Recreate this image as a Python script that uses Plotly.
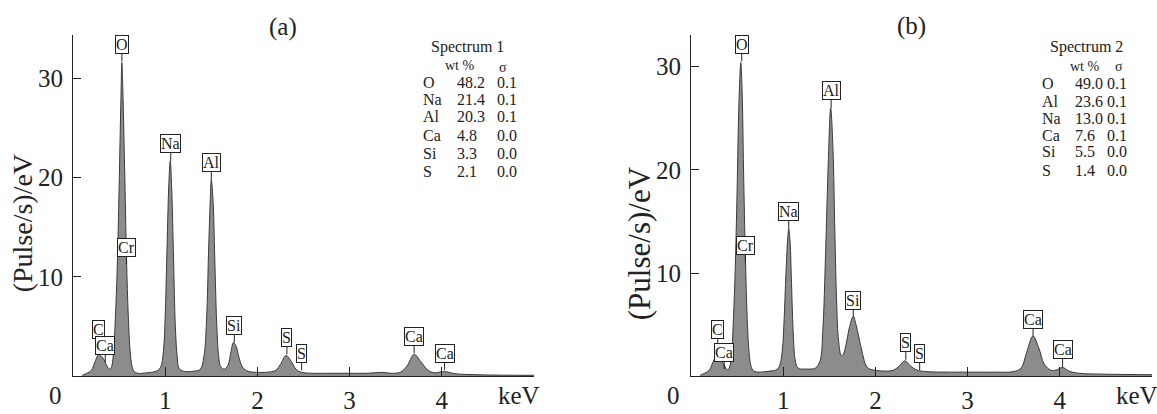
import plotly.graph_objects as go

# ---------------- data ----------------
kev_a = [0.10, 0.15, 0.20, 0.24, 0.28, 0.31, 0.34, 0.37, 0.40, 0.42, 0.44, 0.46, 0.48, 0.50,
         0.52, 0.53, 0.54, 0.56, 0.58, 0.60, 0.62, 0.64, 0.66, 0.70, 0.80, 0.90, 0.95, 0.98,
         1.00, 1.02, 1.04, 1.055, 1.07, 1.09, 1.11, 1.13, 1.15, 1.20, 1.30, 1.38, 1.42, 1.45,
         1.47, 1.49, 1.50, 1.52, 1.54, 1.56, 1.58, 1.60, 1.64, 1.68, 1.71, 1.74, 1.77, 1.80,
         1.84, 1.90, 2.00, 2.10, 2.20, 2.25, 2.31, 2.36, 2.42, 2.48, 2.60, 2.80, 3.00, 3.20,
         3.35, 3.45, 3.55, 3.62, 3.70, 3.77, 3.85, 3.92, 4.00, 4.05, 4.15, 4.40, 4.80, 5.00]
cps_a = [0.1, 0.3, 0.6, 1.5, 2.2, 2.0, 1.6, 1.0, 0.7, 1.0, 2.5, 6.0, 11.0, 19.0,
         28.0, 31.6, 29.0, 21.0, 12.0, 6.0, 2.5, 1.0, 0.5, 0.3, 0.35, 0.5, 0.9, 2.5,
         6.0, 13.0, 19.5, 21.7, 19.0, 12.0, 5.0, 2.0, 0.8, 0.5, 0.5, 0.7, 2.0, 6.0,
         12.5, 18.0, 19.8, 17.5, 11.0, 5.0, 2.0, 1.0, 0.7, 1.1, 2.3, 3.4, 3.0, 1.9,
         0.9, 0.5, 0.4, 0.4, 0.6, 1.2, 2.1, 1.6, 0.7, 0.4, 0.3, 0.3, 0.3, 0.3,
         0.4, 0.3, 0.4, 1.0, 2.2, 1.5, 0.6, 0.35, 0.45, 0.45, 0.25, 0.15, 0.1, 0.1]

kev_b = [0.10, 0.15, 0.20, 0.24, 0.28, 0.31, 0.34, 0.37, 0.40, 0.42, 0.44, 0.46, 0.48, 0.50,
         0.52, 0.54, 0.555, 0.57, 0.59, 0.61, 0.63, 0.65, 0.68, 0.75, 0.85, 0.92, 0.96, 0.99,
         1.01, 1.03, 1.05, 1.06, 1.075, 1.09, 1.11, 1.13, 1.16, 1.25, 1.35, 1.40, 1.43, 1.46,
         1.49, 1.515, 1.54, 1.56, 1.58, 1.60, 1.63, 1.65, 1.68, 1.72, 1.76, 1.79, 1.82, 1.86,
         1.90, 1.94, 2.10, 2.20, 2.26, 2.32, 2.38, 2.45, 2.55, 2.80, 3.00, 3.30, 3.50, 3.58,
         3.64, 3.71, 3.77, 3.83, 3.90, 3.96, 4.03, 4.10, 4.20, 4.50, 5.00]
cps_b = [0.1, 0.3, 0.6, 1.4, 2.0, 1.8, 1.4, 0.9, 0.6, 0.9, 2.2, 5.5, 10.5, 18.0,
         26.5, 30.4, 27.5, 20.0, 11.5, 5.5, 2.3, 1.0, 0.5, 0.4, 0.5, 0.6, 1.0, 2.5,
         5.5, 10.0, 13.5, 14.3, 13.0, 9.0, 4.0, 1.6, 0.8, 0.7, 0.8, 1.5, 4.5, 12.0,
         21.0, 26.0, 22.0, 14.0, 7.0, 3.5, 2.0, 2.1, 3.0, 4.8, 5.8, 5.0, 3.8, 2.2,
         1.0, 0.7, 0.5, 0.6, 1.0, 1.5, 1.0, 0.6, 0.45, 0.4, 0.4, 0.4, 0.45, 0.8,
         2.3, 3.9, 2.8, 1.2, 0.6, 0.6, 0.85, 0.5, 0.3, 0.2, 0.15]

# peak labels: element, energy (keV), height of the pointer tip
lab_a_el = ["C", "Ca", "O", "Cr", "Na", "Al", "Si", "S", "S", "Ca", "Ca"]
lab_a_x = [0.28, 0.35, 0.53, 0.58, 1.06, 1.50, 1.75, 2.32, 2.48, 3.70, 4.03]
lab_a_y = [3.0, 1.4, 31.7, 11.3, 21.7, 19.8, 3.4, 2.2, 0.6, 2.3, 0.6]

lab_b_el = ["C", "Ca", "O", "Cr", "Na", "Al", "Si", "S", "S", "Ca", "Ca"]
lab_b_x = [0.29, 0.36, 0.55, 0.59, 1.06, 1.52, 1.76, 2.33, 2.48, 3.71, 4.03]
lab_b_y = [2.9, 0.7, 30.5, 11.0, 14.3, 26.0, 5.7, 1.6, 0.6, 3.9, 0.9]

# composition tables
tab_a_title = "Spectrum 1"
tab_a_el = ["O", "Na", "Al", "Ca", "Si", "S"]
tab_a_wt = ["48.2", "21.4", "20.3", "4.8", "3.3", "2.1"]
tab_a_sig = ["0.1", "0.1", "0.1", "0.0", "0.0", "0.0"]

tab_b_title = "Spectrum 2"
tab_b_el = ["O", "Al", "Na", "Ca", "Si", "S"]
tab_b_wt = ["49.0", "23.6", "13.0", "7.6", "5.5", "1.4"]
tab_b_sig = ["0.1", "0.1", "0.1", "0.1", "0.0", "0.0"]

y_ticks = [10, 20, 30]
x_ticks = [1, 2, 3, 4, 5]
x_ticktext = ["1", "2", "3", "4", ""]

# ---------------- layout helpers ----------------
W, H = 1157, 414
SERIF = "Liberation Serif, Times New Roman, serif"
INK = "#222222"


def px(x):
    return x / W


def py(y):
    return 1 - y / H


fig = go.Figure()

FILL = "#8c8c8c"
fig.add_trace(go.Scatter(x=kev_a, y=cps_a, mode="lines", fill="tozeroy",
                         fillcolor=FILL, line=dict(color="#3a3a3a", width=1),
                         line_shape="spline", xaxis="x", yaxis="y",
                         showlegend=False, hoverinfo="skip"))
fig.add_trace(go.Scatter(x=kev_b, y=cps_b, mode="lines", fill="tozeroy",
                         fillcolor=FILL, line=dict(color="#3a3a3a", width=1),
                         line_shape="spline", xaxis="x2", yaxis="y2",
                         showlegend=False, hoverinfo="skip"))

y_dom = [py(379), py(35)]
xa = dict(range=[0, 5], tickvals=x_ticks, ticktext=x_ticktext, ticks="inside",
          ticklen=9, tickwidth=1, tickcolor=INK, showline=True, linecolor=INK,
          linewidth=1.2, showgrid=False, zeroline=False,
          tickfont=dict(family=SERIF, size=25, color=INK), ticklabelstandoff=2)
ya = dict(tickvals=y_ticks, ticks="inside", ticklen=8, tickwidth=1, tickcolor=INK,
          showline=True, linecolor=INK, linewidth=1.2, showgrid=False, zeroline=False,
          tickfont=dict(family=SERIF, size=25, color=INK), ticklabelstandoff=4,
          domain=y_dom)

fig.update_layout(
    width=W, height=H, autosize=False,
    margin=dict(l=0, r=0, t=0, b=0),
    paper_bgcolor="white", plot_bgcolor="white",
    xaxis=dict(xa, domain=[px(73), px(534)], anchor="y"),
    yaxis=dict(ya, range=[0, 34.4], anchor="x"),
    xaxis2=dict(xa, domain=[px(691), px(1152)], anchor="y2"),
    yaxis2=dict(ya, range=[0, 33.1], anchor="x2"),
)

ann = []


def txt(x, y, s, size, xanchor="center", yanchor="middle", angle=0):
    ann.append(dict(xref="paper", yref="paper", x=px(x), y=py(y), text=s,
                    showarrow=False, xanchor=xanchor, yanchor=yanchor,
                    textangle=angle, font=dict(family=SERIF, size=size, color=INK)))


# peak label callouts
for els, xs, ys, xr, yr in [(lab_a_el, lab_a_x, lab_a_y, "x", "y"),
                            (lab_b_el, lab_b_x, lab_b_y, "x2", "y2")]:
    for e, xv, yv in zip(els, xs, ys):
        ann.append(dict(xref=xr, yref=yr, x=xv, y=yv, text=e, showarrow=True,
                        arrowhead=0, arrowwidth=1, arrowcolor=INK, ax=0, ay=-17,
                        bgcolor="white", bordercolor=INK, borderwidth=1, borderpad=0,
                        font=dict(family=SERIF, size=16, color=INK)))

# panel titles
txt(283, 27, "(a)", 25)
txt(911, 26, "(b)", 25)

# axis titles and corner labels
txt(22, 225, "(Pulse/s)/eV", 28, angle=-90)
txt(639, 245, "(Pulse/s)/eV", 31, angle=-90)
txt(64, 398, "0", 25, xanchor="right")
txt(682, 398, "0", 25, xanchor="right")
txt(519, 398, "keV", 25)
txt(1137, 398, "keV", 25)

# composition tables
TF = 16
for (title, els, wts, sigs, cx_title, y_title, y_wt, y_sig_h, x_wt, x_sig_h, x_el,
     x_val, x_sig, rows) in [
        (tab_a_title, tab_a_el, tab_a_wt, tab_a_sig, 467, 47, 66, 68, 443, 503, 421, 455,
         495, [83, 100, 117, 136, 155, 173]),
        (tab_b_title, tab_b_el, tab_b_wt, tab_b_sig, 1086, 47, 67, 67, 1068, 1119, 1040,
         1073, 1105, [84, 102, 119, 136, 153, 172])]:
    txt(cx_title, y_title, title, TF)
    txt(x_wt, y_wt, "wt %", 14, xanchor="left")
    txt(x_sig_h, y_sig_h, "σ", 14)
    for e, w, s, yy in zip(els, wts, sigs, rows):
        txt(x_el, yy, e, TF, xanchor="left")
        txt(x_val, yy, w, TF, xanchor="left")
        txt(x_sig, yy, s, TF, xanchor="left")

fig.update_layout(annotations=ann)
fig.write_html(
    "out.html",
    config={"displayModeBar": False},
    post_script="document.body.style.margin='0';document.body.style.overflow='hidden';",
)
